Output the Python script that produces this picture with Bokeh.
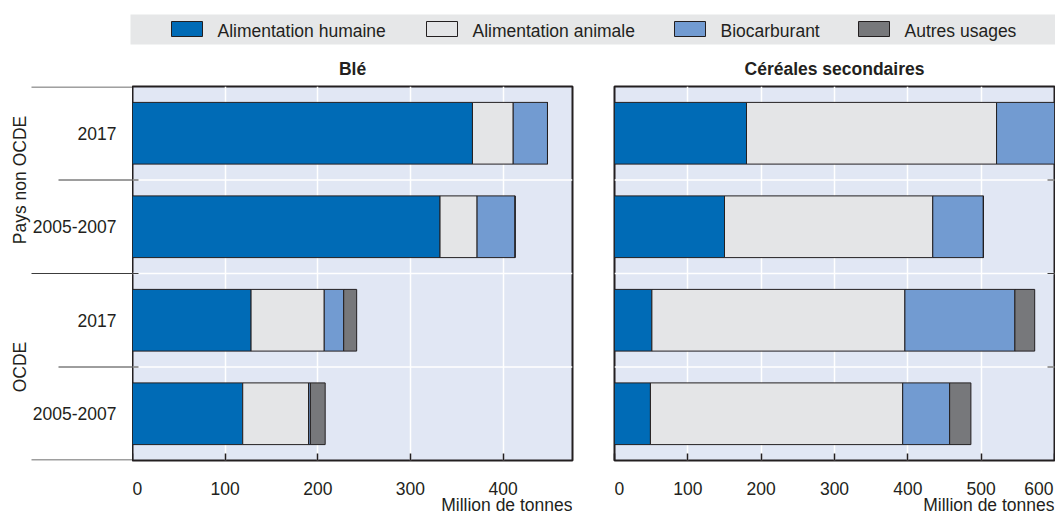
import math
from bokeh.plotting import figure
from bokeh.models import (ColumnDataSource, FactorRange, Range1d, FixedTicker, Spacer)
from bokeh.layouts import column, row
from bokeh.core.properties import value
from bokeh.embed import file_html
from bokeh.resources import INLINE

# ---------------- data ----------------
groups = ["Pays non OCDE", "Pays non OCDE", "OCDE", "OCDE"]
periods = ["2017", "2005-2007", "2017", "2005-2007"]
series = ["Alimentation humaine", "Alimentation animale", "Biocarburant", "Autres usages"]
panel_titles = ["Blé", "Céréales secondaires"]
x_label = "Million de tonnes"

ble_food = [367, 332, 128, 119]
ble_feed = [44, 40, 79, 71]
ble_biofuel = [37, 41, 21, 2]
ble_other = [0, 0, 14, 16]

cs_food = [180, 150, 51, 49]
cs_feed = [341, 284, 345, 344]
cs_biofuel = [84, 69, 150, 64]
cs_other = [0, 0, 27, 29]

ble_ticks = [0, 100, 200, 300, 400]
cs_ticks = [0, 100, 200, 300, 400, 500, 600]
ble_max = 475
cs_max = 600

# ---------------- style ----------------
FONT = "Liberation Sans"
FS = "17.5px"
INK = "#231f20"
LINE = "#3c3c3c"
COLORS = ["#006bb6", "#e4e5e7", "#729bd1", "#77787b"]
PLOT_BG = "#e1e7f4"
LEGEND_BG = "#e6e7e8"

# layout geometry (pixels)
HEAD_H = 80
ROW_H = 386
BOT_H = 47
MB_TOP = 6
MB_BOT = 6
AX_W = 132
P1_W = 468
P2_W = 455
P1_MBR = 28
P2_MBL = 14
P2_MBR = 1
TOTAL_W = AX_W + P1_W + P2_W
FRAME_W = 440
FRAME_H = ROW_H - MB_TOP - MB_BOT
TICK_Y = 22
XLABEL_Y = 38

# ---------------- shared categorical y range ----------------
factors = list(zip(groups, periods))[::-1]          # bottom -> top
yr = FactorRange(*factors, factor_padding=0, group_padding=0,
                 subgroup_padding=0, range_padding=0)
n = len(factors)
px_per_cat = FRAME_H / n

keys = ["food", "feed", "bio", "other"]


def base_fig(width, height, **kw):
    f = figure(width=width, height=height, output_backend="svg",
               toolbar_location=None, **kw)
    f.border_fill_color = "white"
    return f


def make_panel(vals, xmax, ticks, width, mbl, mbr):
    p = base_fig(width, ROW_H, y_range=yr, x_range=Range1d(0, xmax),
                 y_axis_location=None,
                 min_border_left=mbl, min_border_right=mbr,
                 min_border_top=MB_TOP, min_border_bottom=MB_BOT)
    p.background_fill_color = PLOT_BG
    p.outline_line_color = INK
    p.outline_line_width = 2

    p.xgrid.ticker = FixedTicker(ticks=ticks)
    p.xgrid.grid_line_color = "white"
    p.xgrid.grid_line_width = 1.5
    p.ygrid.grid_line_color = None

    ax = p.xaxis[0]
    ax.ticker = FixedTicker(ticks=ticks)
    ax.axis_line_color = None
    ax.major_tick_in = 7
    ax.major_tick_out = 0
    ax.major_tick_line_color = INK
    ax.major_tick_line_width = 1.5
    ax.minor_tick_line_color = None
    ax.major_label_standoff = 0
    ax.major_label_text_font_size = "1px"
    ax.major_label_overrides = {t: "" for t in ticks}   # labels drawn below

    # white separators between categories
    inner = list(range(1, n))
    p.segment(x0=[0] * len(inner), x1=[xmax] * len(inner), y0=inner, y1=inner,
              line_color="white", line_width=1.5)

    src = ColumnDataSource(dict(y=factors,
                                food=vals[0][::-1], feed=vals[1][::-1],
                                bio=vals[2][::-1], other=vals[3][::-1]))
    p.hbar_stack(keys, y="y", height=0.66, fill_color=COLORS,
                 line_color=INK, line_width=1, source=src)
    return p


def make_scale_labels(panel, ticks, xmax, width, mbl, mbr):
    b = base_fig(width, BOT_H, x_range=panel.x_range, y_range=Range1d(BOT_H, 0),
                 x_axis_location=None, y_axis_location=None,
                 min_border_left=mbl, min_border_right=mbr,
                 min_border_top=0, min_border_bottom=0)
    b.outline_line_color = None
    b.grid.grid_line_color = None
    b.background_fill_color = "white"
    txt = dict(text_font=value(FONT), text_font_size=FS, text_color=INK,
               text_baseline="alphabetic")
    first, rest = ticks[0], ticks[1:]
    last = [t for t in rest if t >= xmax]
    mid = [t for t in rest if t < xmax]
    b.text(x=[first], y=[TICK_Y], text=[str(first)], text_align="left", **txt)
    b.text(x=mid, y=[TICK_Y] * len(mid), text=[str(t) for t in mid],
           text_align="center", **txt)
    if last:
        b.text(x=last, y=[TICK_Y] * len(last), text=[str(t) for t in last],
               text_align="right", x_offset=-1, **txt)
    b.text(x=[xmax], y=[XLABEL_Y], text=[x_label], text_align="right", **txt)
    return b


p1 = make_panel([ble_food, ble_feed, ble_biofuel, ble_other],
                ble_max, ble_ticks, P1_W, 0, P1_MBR)
p2 = make_panel([cs_food, cs_feed, cs_biofuel, cs_other],
                cs_max, cs_ticks, P2_W, P2_MBL, P2_MBR)

# small tick marks at category boundaries
inner = list(range(1, n))
ext1 = 6 * ble_max / FRAME_W
p1.segment(x0=[0] * len(inner), x1=[ext1] * len(inner), y0=inner, y1=inner,
           line_color=LINE, line_width=1)
ext2 = 7 * cs_max / FRAME_W
p2.segment(x0=[cs_max - ext2] * len(inner), x1=[cs_max] * len(inner), y0=inner, y1=inner,
           line_color=LINE, line_width=1)

# ---------------- left category axis ----------------
axf = base_fig(AX_W, ROW_H, y_range=yr, x_range=Range1d(0, AX_W),
               x_axis_location=None, y_axis_location=None,
               min_border_left=0, min_border_right=0,
               min_border_top=MB_TOP, min_border_bottom=MB_BOT)
axf.outline_line_color = None
axf.grid.grid_line_color = None
axf.background_fill_color = "white"

rev_groups = groups[::-1]
eps = 0.5 / px_per_cat
long_y, short_y = [], []
for bnd in range(n + 1):
    if bnd == 0 or bnd == n or rev_groups[bnd - 1] != rev_groups[bnd]:
        long_y.append(min(max(bnd, eps), n - eps))
    else:
        short_y.append(bnd)
axf.segment(x0=[31] * len(long_y), x1=[AX_W] * len(long_y), y0=long_y, y1=long_y,
            line_color=LINE, line_width=1)
axf.segment(x0=[58] * len(short_y), x1=[AX_W] * len(short_y), y0=short_y, y1=short_y,
            line_color=LINE, line_width=1)

axf.text(x=[116] * n, y=factors, text=[f[1] for f in factors],
         text_align="right", text_baseline="middle",
         text_font=value(FONT), text_font_size=FS, text_color=INK)

grp_names, grp_centers = [], []
for g in rev_groups:
    if g not in grp_names:
        grp_names.append(g)
        idx = [j for j, gg in enumerate(rev_groups) if gg == g]
        grp_centers.append((min(idx) + max(idx) + 1) / 2)
axf.text(x=[19] * len(grp_names), y=grp_centers, text=grp_names, angle=math.pi / 2,
         text_align="center", text_baseline="alphabetic",
         text_font=value(FONT), text_font_size=FS, text_color=INK)

# ---------------- header: legend + panel titles ----------------
head = base_fig(TOTAL_W, HEAD_H, x_range=Range1d(0, TOTAL_W),
                y_range=Range1d(HEAD_H, 0),
                x_axis_location=None, y_axis_location=None, min_border=0)
head.outline_line_color = None
head.grid.grid_line_color = None
head.background_fill_color = "white"

head.quad(left=[130], right=[TOTAL_W], top=[14], bottom=[44],
          fill_color=LEGEND_BG, line_color=None)
sw_left = [171, 426, 674, 858]
head.quad(left=sw_left, right=[s + 31 for s in sw_left], top=[21] * 4, bottom=[36] * 4,
          fill_color=COLORS, line_color=INK, line_width=1)
head.text(x=[s + 46 for s in sw_left], y=[30] * 4, text=series,
          text_align="left", text_baseline="middle",
          text_font=value(FONT), text_font_size=FS, text_color=INK)

c1 = AX_W + FRAME_W / 2
c2 = AX_W + P1_W + P2_MBL + FRAME_W / 2
head.text(x=[c1, c2], y=[68, 68], text=panel_titles,
          text_align="center", text_baseline="alphabetic",
          text_font=value(FONT), text_font_size=FS, text_font_style="bold",
          text_color=INK)

# ---------------- bottom: scale labels ----------------
b1 = make_scale_labels(p1, ble_ticks, ble_max, P1_W, 0, P1_MBR)
b2 = make_scale_labels(p2, cs_ticks, cs_max, P2_W, P2_MBL, P2_MBR)

layout = column(head,
                row(axf, p1, p2),
                row(Spacer(width=AX_W, height=BOT_H), b1, b2))
open("out.html", "w").write(file_html(layout, INLINE))
